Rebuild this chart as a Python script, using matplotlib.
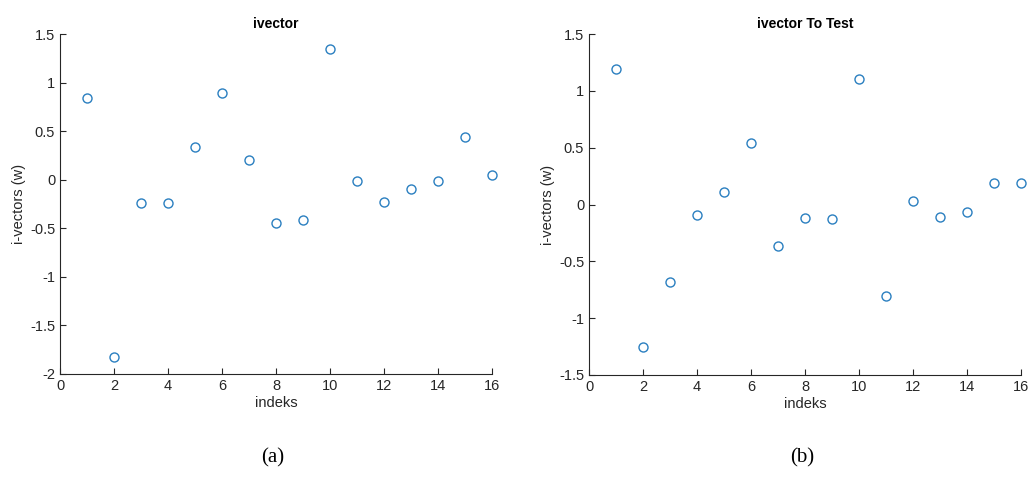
import numpy as np
import matplotlib.pyplot as plt

plt.rcParams['font.family'] = ['Liberation Sans', 'DejaVu Sans']

indeks = np.arange(1, 17)
ivector = [0.845, -1.82, -0.237, -0.237, 0.337, 0.897, 0.206, -0.450,
           -0.412, 1.344, -0.01, -0.234, -0.096, -0.014, 0.436, 0.052]
ivector_test = [1.19, -1.255, -0.686, -0.094, 0.111, 0.543, -0.364, -0.117,
                -0.126, 1.103, -0.809, 0.035, -0.111, -0.070, 0.19, 0.188]

titles = ["ivector", "ivector To Test"]
panel_labels = ["(a)", "(b)"]
ylims = [(-2, 1.5), (-1.5, 1.5)]

axis_col = '#262626'
mark_col = '#2a7fc0'

fig = plt.figure(figsize=(10.31, 4.97), dpi=100)
axes = [fig.add_axes([0.0582, 0.2475, 0.419, 0.684]),
        fig.add_axes([0.5713, 0.2455, 0.419, 0.686])]

for ax, vals, title, lab, yl in zip(axes, [ivector, ivector_test], titles, panel_labels, ylims):
    ax.plot(indeks, vals, 'o', mfc='none', mec=mark_col, ms=6.5, mew=1.0, clip_on=False)
    ax.set_xlim(0, 16)
    ax.set_ylim(*yl)
    ax.set_xticks(np.arange(0, 17, 2))
    yt = np.arange(yl[0], yl[1] + 0.01, 0.5)
    ax.set_yticks(yt)
    ax.set_yticklabels([('%g' % v) for v in yt])
    for s in ['top', 'right']:
        ax.spines[s].set_visible(False)
    for s in ['left', 'bottom']:
        ax.spines[s].set_color(axis_col)
        ax.spines[s].set_linewidth(0.8)
    ax.tick_params(direction='in', length=4, width=0.8, colors=axis_col, labelsize=10.5)
    ax.set_title(title, fontsize=10, fontweight='bold', color='black', pad=4)
    ax.set_xlabel('indeks', fontsize=10.5, color=axis_col, labelpad=2)
    ax.set_ylabel('i-vectors (w)', fontsize=10.5, color=axis_col, labelpad=3)
    pos = ax.get_position()
    fig.text((pos.x0 + pos.x1) / 2 - 0.003, 0.078, lab, ha='center', va='center',
             fontsize=15, family='Liberation Serif')

fig.savefig('out.png', dpi=100)
